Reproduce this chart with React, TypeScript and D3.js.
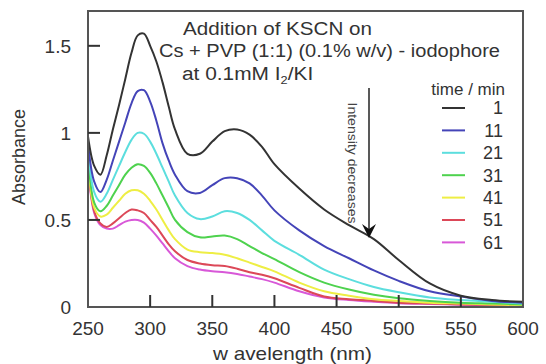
import React from 'react'
import * as d3 from 'd3'

// wavelength grid (nm) shared by every spectrum
const wavelengths = [
  250, 255, 260, 265, 270, 275, 280, 285, 290, 295, 300, 305, 310, 315, 320,
  330, 340, 350, 360, 370, 380, 390, 400, 420, 440, 460, 480, 500, 525, 550,
  575, 600,
]

const abs1 = [
  0.98, 0.81, 0.76, 0.87, 1.02, 1.16, 1.31, 1.46, 1.56, 1.57, 1.5, 1.41, 1.29,
  1.15, 1.02, 0.88, 0.88, 0.95, 1.01, 1.02, 0.99, 0.92, 0.82, 0.68, 0.56, 0.47,
  0.39, 0.27, 0.135, 0.065, 0.04, 0.03,
]
const abs11 = [
  0.94, 0.72, 0.66, 0.73, 0.84, 0.95, 1.06, 1.17, 1.24, 1.245, 1.18, 1.07, 0.94,
  0.84, 0.76, 0.665, 0.655, 0.7, 0.74, 0.74, 0.71, 0.64, 0.555, 0.44, 0.35,
  0.28, 0.21, 0.15, 0.09, 0.06, 0.035, 0.025,
]
const abs21 = [
  0.91, 0.66, 0.605, 0.65, 0.73, 0.81, 0.89, 0.96, 1.0, 0.995, 0.95, 0.88, 0.8,
  0.72, 0.64, 0.54, 0.505, 0.52, 0.55, 0.54, 0.5, 0.44, 0.38, 0.3, 0.215, 0.16,
  0.115, 0.085, 0.055, 0.04, 0.03, 0.02,
]
const abs31 = [
  0.88, 0.6, 0.55, 0.58, 0.64, 0.7, 0.76, 0.8, 0.82, 0.81, 0.77, 0.71, 0.64,
  0.57, 0.5, 0.43, 0.4, 0.405, 0.41, 0.39, 0.35, 0.31, 0.275, 0.2, 0.14, 0.1,
  0.07, 0.05, 0.035, 0.025, 0.02, 0.015,
]
const abs41 = [
  0.85, 0.57, 0.52, 0.53, 0.57, 0.61, 0.65, 0.67, 0.67, 0.65, 0.61, 0.56, 0.5,
  0.44, 0.39, 0.33, 0.315, 0.31, 0.3, 0.28, 0.255, 0.23, 0.205, 0.14, 0.09,
  0.065, 0.045, 0.035, 0.025, 0.02, 0.015, 0.01,
]
const abs51 = [
  0.82, 0.55, 0.48, 0.46, 0.48, 0.51, 0.54, 0.56, 0.555, 0.54, 0.5, 0.46, 0.41,
  0.36, 0.32, 0.27, 0.25, 0.24, 0.235, 0.22, 0.2, 0.185, 0.165, 0.11, 0.06,
  0.045, 0.035, 0.025, 0.02, 0.015, 0.012, 0.01,
]
const abs61 = [
  0.8, 0.54, 0.47, 0.45, 0.45, 0.47, 0.49, 0.5, 0.5, 0.485, 0.45, 0.41, 0.365,
  0.32, 0.28, 0.235, 0.215, 0.205, 0.2, 0.19, 0.175, 0.16, 0.14, 0.09, 0.055,
  0.04, 0.03, 0.022, 0.017, 0.013, 0.01, 0.008,
]

const times = ['1', '11', '21', '31', '41', '51', '61']
const spectra = [abs1, abs11, abs21, abs31, abs41, abs51, abs61]
const colors = [
  '#333333',
  '#4444b8',
  '#5cdede',
  '#4ed24e',
  '#eeee44',
  '#dc4858',
  '#d858d8',
]

const xTicks = [250, 300, 350, 400, 450, 500, 550, 600]
const yTicks = [0, 0.5, 1, 1.5]

const font = '"Liberation Sans", Arial, sans-serif'

export default function App() {
  const left = 88
  const right = 523
  const top = 11
  const bottom = 307

  const x = d3.scaleLinear().domain([250, 600]).range([left, right])
  const y = d3.scaleLinear().domain([0, 1.7]).range([bottom, top])

  const line = d3
    .line<number>()
    .x((d, i) => x(wavelengths[i]))
    .y((d) => y(d))
    .curve(d3.curveCatmullRom.alpha(0.5))

  const axisColor = '#555'

  return (
    <div style={{ position: 'fixed', left: 0, top: 0 }}>
      <svg width={546} height={364} style={{ display: 'block', background: '#fff' }}>
        {/* spectra, drawn from the last time to the first so black sits on top */}
        {spectra
          .map((s, i) => (
            <path
              key={times[i]}
              d={line(s) || ''}
              fill="none"
              stroke={colors[i]}
              strokeWidth={2}
            />
          ))
          .reverse()}

        {/* frame */}
        <rect
          x={left}
          y={top}
          width={right - left}
          height={bottom - top}
          fill="none"
          stroke={axisColor}
          strokeWidth={2}
        />

        {/* x ticks */}
        {xTicks.map((t) => (
          <g key={'x' + t}>
            {t > 250 && t < 600 && (
              <line x1={x(t)} x2={x(t)} y1={bottom} y2={bottom - 12} stroke="#333" strokeWidth={2} />
            )}
            <text
              x={x(t)}
              y={335}
              textAnchor="middle"
              fontFamily={font}
              fontSize={19}
              fill="#333"
            >
              {t}
            </text>
          </g>
        ))}

        {/* y ticks */}
        {yTicks.map((t) => (
          <g key={'y' + t}>
            {t > 0 && (
              <line x1={left} x2={left + 12} y1={y(t)} y2={y(t)} stroke="#333" strokeWidth={2} />
            )}
            <text
              x={71}
              y={y(t)}
              dy="0.36em"
              textAnchor="end"
              fontFamily={font}
              fontSize={19}
              fill="#333"
            >
              {t}
            </text>
          </g>
        ))}

        {/* axis titles */}
        <text
          transform="translate(25,157) rotate(-90)"
          textAnchor="middle"
          fontFamily={font}
          fontSize={18}
          fill="#333"
        >
          Absorbance
        </text>
        <text
          x={213}
          y={360}
          fontFamily={font}
          fontSize={19}
          fill="#333"
          textLength={159}
          lengthAdjust="spacingAndGlyphs"
        >
          w avelength (nm)
        </text>

        {/* annotation */}
        <g fontFamily={font} fontSize={18} fill="#333">
          <text x={183} y={35} textLength={189} lengthAdjust="spacingAndGlyphs">
            Addition of KSCN on
          </text>
          <text x={159} y={57} textLength={341} lengthAdjust="spacingAndGlyphs">
            Cs + PVP (1:1) (0.1% w/v) - iodophore
          </text>
          <g transform="translate(182,80) scale(1.16,1)">
            <text x={0} y={0}>
              at 0.1mM I<tspan fontSize={11} dy={4}>2</tspan>
              <tspan dy={-4}>/KI</tspan>
            </text>
          </g>
        </g>

        {/* arrow */}
        <line x1={369} x2={369} y1={88} y2={232} stroke="#222" strokeWidth={1.5} />
        <path d="M369,238 L362,224 L369,229 L376,224 Z" fill="#111" />
        <text
          transform="translate(348,163) rotate(90)"
          textAnchor="middle"
          fontFamily={font}
          fontSize={12}
          fill="#444"
          textLength={121}
          lengthAdjust="spacingAndGlyphs"
        >
          Intensity decreases
        </text>

        {/* legend */}
        <text x={505} y={95} textAnchor="end" fontFamily={font} fontSize={17} fill="#333">
          time / min
        </text>
        {times.map((t, i) => {
          const ly = 108 + i * 22.4
          return (
            <g key={'leg' + t}>
              <line x1={442} x2={465} y1={ly} y2={ly} stroke={colors[i]} strokeWidth={2} />
              <text
                x={503}
                y={ly}
                dy="0.36em"
                textAnchor="end"
                fontFamily={font}
                fontSize={18}
                fill="#333"
              >
                {t}
              </text>
            </g>
          )
        })}
      </svg>
    </div>
  )
}
